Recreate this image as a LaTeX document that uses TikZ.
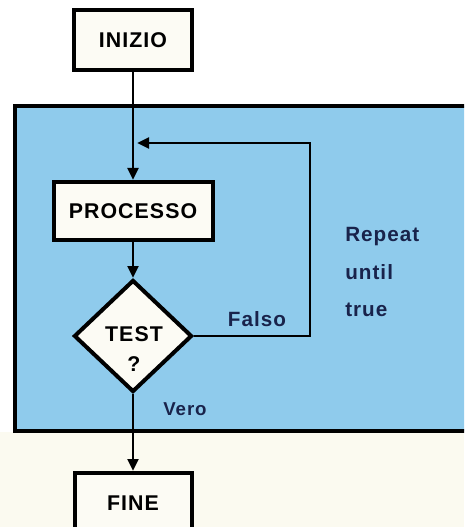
\documentclass[tikz,border=0pt]{standalone}
\usepackage{fontspec}
\setmainfont{Liberation Sans}[LetterSpace=5]
\usetikzlibrary{shapes.geometric,arrows.meta}
\definecolor{panelblue}{RGB}{143,203,236}
\definecolor{cream}{RGB}{251,250,240}
\definecolor{boxfill}{RGB}{252,251,244}
\definecolor{navy}{RGB}{25,35,75}
\tikzset{
  flowbox/.style={draw=black, line width=3pt, fill=boxfill, inner sep=0pt, font=\bfseries\fontsize{16}{19}\selectfont},
  conn/.style={line width=2.2pt, draw=black},
  arr/.style={conn, -{Triangle[length=9pt,width=8pt]}},
  note/.style={text=navy, font=\bfseries\fontsize{15.5}{18}\selectfont, inner sep=0pt}
}
\begin{document}
\begin{tikzpicture}[x=0.75pt,y=-0.75pt]
\clip (0,0) rectangle (464,527);
\fill[white] (0,0) rectangle (464,527);
\fill[cream] (0,432) rectangle (464,527);
% panel
\draw[fill=panelblue, line width=2.6pt] (15,106) rectangle (480,431);
% nodes
\node[flowbox, minimum width=88.5pt, minimum height=45pt] (inizio) at (133,40) {INIZIO};
\node[flowbox, minimum width=119.25pt, minimum height=43.5pt] (proc) at (133,211) {PROCESSO};
\node[flowbox, shape=diamond, minimum width=88.5pt, minimum height=84pt] (test) at (133,336) {};
\node[font=\bfseries\fontsize{16}{19}\selectfont, align=center, inner sep=0pt] (testtxt) at (134,349) {TEST\\[4pt]?};
\node[flowbox, minimum width=87.75pt, minimum height=45pt] (fine) at (133,503) {FINE};
% labels
\node[note] (falso) at (257,319) {Falso};
\node[note, anchor=west, align=left, font=\bfseries\fontsize{15.5}{28}\selectfont] (repeat) at (345,272) {Repeat\\until\\true};
\node[note, font=\bfseries\fontsize{14}{17}\selectfont] (vero) at (185,409) {Vero};
% connectors
\coordinate (join) at (133,143);
\coordinate (loopa) at (310,336);
\coordinate (loopb) at (310,143);
\draw[conn] (inizio.south) -- (join);
\draw[arr] (join) -- (proc.north);
\draw[arr] (proc.south) -- (test.north);
\draw[arr] (test.south) -- (fine.north);
\draw[arr] (test.east) -- (loopa) -- (loopb) -- ([xshift=3pt]join);
\end{tikzpicture}
\end{document}
